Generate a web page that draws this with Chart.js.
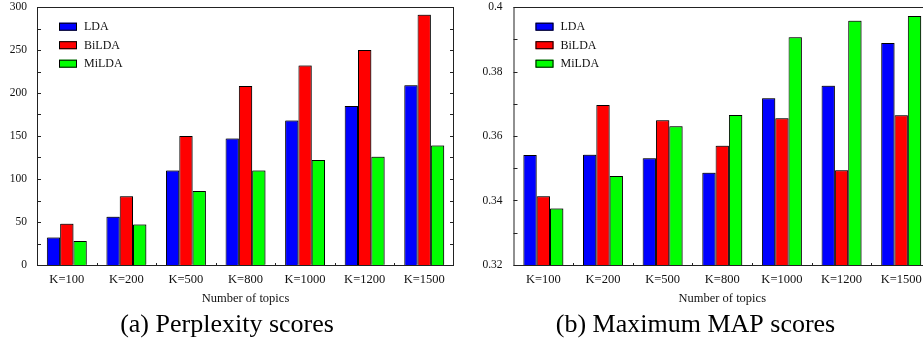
<!DOCTYPE html>
<html>
<head>
<meta charset="utf-8">
<script src="https://cdn.jsdelivr.net/npm/chart.js@4"></script>
<style>
  html, body { margin: 0; padding: 0; background: #fff; overflow: hidden; }
  body { width: 923px; height: 343px; position: relative; }
  canvas { position: absolute; top: 0; }
  #perplexityChart { left: 0; }
  #mapChart { left: 460px; }
</style>
</head>
<body>
<canvas id="perplexityChart" width="465" height="343"></canvas>
<canvas id="mapChart" width="510" height="343"></canvas>
<script>
// Data
const categories = ['K=100', 'K=200', 'K=500', 'K=800', 'K=1000', 'K=1200', 'K=1500'];
const seriesNames = ['LDA', 'BiLDA', 'MiLDA'];
const seriesColors = ['#0000ff', '#ff0000', '#00ff00'];

const ldaPerplexity = [32, 56, 110, 147, 168, 185, 209];
const bildaPerplexity = [48, 80, 150, 208, 232, 250, 291];
const mildaPerplexity = [28, 47, 86, 110, 122, 126, 139];

const ldaMap = [0.3541, 0.3542, 0.3531, 0.3486, 0.3717, 0.3756, 0.3888];
const bildaMap = [0.3413, 0.3696, 0.3649, 0.357, 0.3655, 0.3494, 0.3664];
const mildaMap = [0.3375, 0.3476, 0.363, 0.3665, 0.3906, 0.3957, 0.3972];

const perplexityTicks = { min: 0, max: 300, step: 25 };
const mapTicks = { min: 0.32, max: 0.40, step: 0.01 };

Chart.defaults.font.family = "'Liberation Serif', 'DejaVu Serif', serif";
Chart.defaults.color = '#111';

// Legend box drawn inside the plot area, top left
const innerLegend = {
    id: 'innerLegend',
    afterDraw(chart) {
        const { ctx, chartArea } = chart;
        ctx.save();
        ctx.font = "12px 'Liberation Serif'";
        ctx.textBaseline = 'middle';
        chart.data.datasets.forEach((ds, i) => {
            const yc = chartArea.top + 19.7 + i * 18.5;
            const x = chartArea.left + 22;
            ctx.fillStyle = ds.backgroundColor;
            ctx.fillRect(x, yc - 4, 18, 8);
            ctx.strokeStyle = '#000';
            ctx.lineWidth = 1;
            ctx.strokeRect(x + 0.5, yc - 3.5, 17, 7);
            ctx.fillStyle = '#111';
            ctx.fillText(ds.label, chartArea.left + 47, yc + 0.5);
        });
        ctx.restore();
    }
};

// Frame with inward tick marks on left, right and bottom
const frameTicks = {
    id: 'frameTicks',
    beforeDatasetsDraw(chart) {
        const ctx = chart.ctx;
        ctx.save();
        ctx.shadowColor = 'rgba(0,0,0,0.35)';
        ctx.shadowOffsetX = 1;
        ctx.shadowOffsetY = -1;
        ctx.shadowBlur = 0;
    },
    afterDatasetsDraw(chart) {
        chart.ctx.restore();
    },
    afterDraw(chart) {
        const { ctx, chartArea, scales } = chart;
        const { left, right, top, bottom } = chartArea;
        ctx.save();
        ctx.strokeStyle = '#222';
        ctx.lineWidth = 1;
        ctx.strokeRect(left + 0.5, top + 0.5, right - left - 1, bottom - top);
        ctx.beginPath();
        scales.y.ticks.forEach(t => {
            const py = Math.round(scales.y.getPixelForValue(t.value)) + 0.5;
            ctx.moveTo(left, py);
            ctx.lineTo(left + 4, py);
            ctx.moveTo(right, py);
            ctx.lineTo(right - 4, py);
        });
        for (let i = 0; i < categories.length - 1; i++) {
            const px = Math.round(scales.x.getPixelForValue(i + 0.5)) + 0.5;
            ctx.moveTo(px, bottom);
            ctx.lineTo(px, bottom - 2);
        }
        ctx.stroke();
        ctx.restore();
    }
};

function makeChart(canvasId, values, ticks, caption, yWidth, padRight, yPad) {
    const datasets = seriesNames.map((name, i) => ({
        label: name,
        data: values[i],
        backgroundColor: seriesColors[i],
        borderColor: '#000',
        borderWidth: 1,
        barPercentage: 1.0,
        categoryPercentage: 0.67
    }));
    return new Chart(document.getElementById(canvasId), {
        type: 'bar',
        data: { labels: categories, datasets: datasets },
        options: {
            responsive: false,
            animation: false,
            devicePixelRatio: 1,
            layout: { padding: { top: 7, right: padRight, left: 0, bottom: 0 } },
            plugins: {
                legend: { display: false },
                tooltip: { enabled: false },
                title: {
                    display: true,
                    position: 'bottom',
                    text: caption,
                    color: '#000',
                    font: { size: 26, weight: 'normal' },
                    padding: { top: 0, bottom: 2 }
                }
            },
            scales: {
                x: {
                    grid: { display: false, drawTicks: false },
                    border: { display: false },
                    ticks: { font: { size: 12.5 }, padding: 7, autoSkip: false, maxRotation: 0, color: '#111' },
                    title: { display: true, text: 'Number of topics', font: { size: 12.5 }, color: '#111', padding: { top: 0, bottom: 4 } },
                    afterFit(scale) {
                        scale.height = 44.8;
                        scale.paddingLeft = 0;
                        scale.paddingRight = 0;
                    }
                },
                y: {
                    min: ticks.min,
                    max: ticks.max,
                    grid: { display: false, drawTicks: false },
                    border: { display: false },
                    ticks: {
                        stepSize: ticks.step,
                        padding: yPad,
                        font: { size: 11.5 },
                        color: '#111',
                        autoSkip: false,
                        callback: (value, index) => index % 2 === 0 ? String(Number(value.toFixed(2))) : ''
                    },
                    afterFit(scale) {
                        scale.width = yWidth;
                        scale.paddingTop = 0;
                        scale.paddingBottom = 0;
                    }
                }
            }
        },
        plugins: [frameTicks, innerLegend]
    });
}

makeChart('perplexityChart', [ldaPerplexity, bildaPerplexity, mildaPerplexity],
    perplexityTicks, '(a) Perplexity scores', 37, 11, 10);
makeChart('mapChart', [ldaMap, bildaMap, mildaMap],
    mapTicks, '(b) Maximum MAP scores', 53.5, 39, 11);
</script>
</body>
</html>
